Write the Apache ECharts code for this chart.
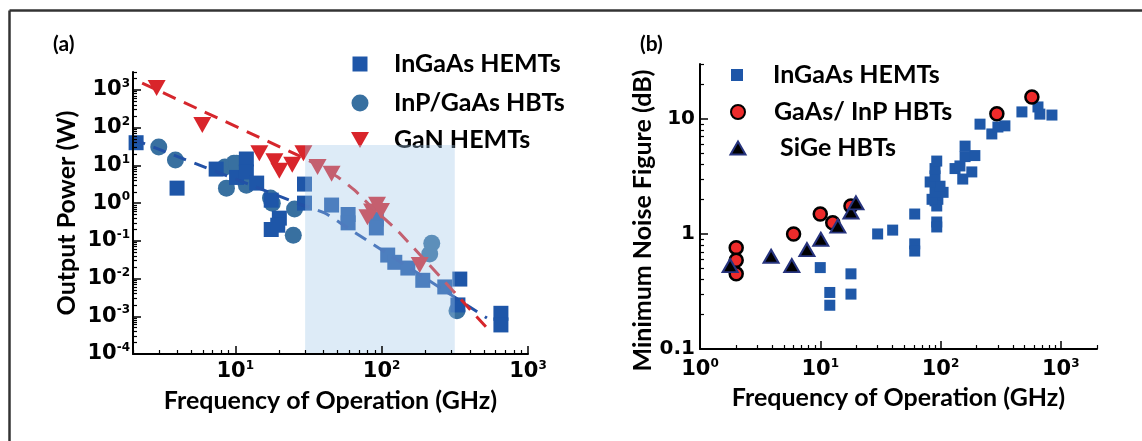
<!DOCTYPE html>
<html>
<head>
<meta charset="utf-8">
<script src="https://cdn.jsdelivr.net/npm/echarts@6/dist/echarts.min.js"></script>
<style>
  html, body { margin: 0; padding: 0; background: #fff; overflow: hidden; }
  #chart { width: 1142px; height: 441px; }
</style>
</head>
<body>
<div id="chart"></div>
<script>
// ---------- Panel (a): output power vs. frequency ----------
// [frequency (GHz), output power (W)]
const ingaasPower = [
  [2.1, 40], [4, 2.5], [7.4, 8], [10.2, 4.8], [11.9, 14.8], [11.9, 6.7], [14, 3.4],
  [17.6, 1.2], [20, 0.4], [17.6, 0.2], [19.5, 0.26], [29.7, 3.2], [29.7, 1.0],
  [45.5, 0.89], [59, 0.5], [59, 0.3], [92, 0.38], [92, 0.22], [110, 0.042],
  [123, 0.027], [151, 0.019], [191, 0.009], [270, 0.006], [342, 0.0097],
  [332, 0.002], [653, 0.0012], [653, 0.00059]
];
const hbtPower = [
  [3, 31], [3.9, 13.9], [8.5, 9.1], [9.8, 11.5], [10.2, 11.5], [8.7, 2.5], [11.9, 3.0],
  [17.4, 1.36], [17.9, 1.0], [25.4, 0.7], [24.9, 0.14], [220, 0.087], [213, 0.045],
  [327, 0.0014]
];
const ganPower = [
  [2.9, 1130], [5.95, 118], [14.6, 21], [18.5, 13], [20, 7.2], [24.5, 10.4],
  [29.2, 21], [36.5, 9.1], [45.5, 6], [93, 0.9], [86, 0.6], [80, 0.42], [99, 0.62],
  [182, 0.023]
];
// dashed trend curves
const hbtTrend = [[2, 50], [27.4, 0.95], [40.7, 0.55], [55.8, 0.25], [524, 0.0009]];
const ganTrend = [
  [2.31, 1530], [27.4, 17.8], [36.5, 10.3], [51.5, 4.6], [65.3, 2.2],
  [85.5, 0.79], [133, 0.161], [524, 0.00049]
];
// highlighted band: [f start, f end, P bottom, P top]
const powerBand = [[30, 316, 1e-4, 35]];

// ---------- Panel (b): minimum noise figure vs. frequency ----------
// [frequency (GHz), NFmin (dB)]
const ingaasNoise = [
  [10, 0.51], [12, 0.31], [12, 0.24], [18, 0.45], [18, 0.3], [30, 1.0], [40, 1.08],
  [61, 1.49], [61, 0.82], [61, 0.71], [93, 1.27], [93, 1.15], [90, 1.94], [95, 2.0],
  [93, 1.75], [85, 2.0], [105, 2.3], [90, 2.3], [99, 2.6], [82, 2.83], [90, 3.2],
  [90, 3.7], [93, 4.3], [132, 3.7], [145, 3.9], [153, 3.0], [182, 3.46], [160, 4.7],
  [160, 5.8], [193, 4.8], [213, 9.0], [267, 7.4], [300, 8.5], [343, 8.7],
  [475, 11.5], [646, 12.7], [670, 11.0], [844, 10.8]
];
const hbtNoise = [
  [2, 0.76], [2, 0.59], [2, 0.45], [6, 1.0], [10, 1.49], [12.7, 1.25], [18, 1.75],
  [294, 11.1], [575, 15.5]
];
const sigeNoise = [
  [1.78, 0.53], [3.9, 0.64], [5.8, 0.53], [7.75, 0.73], [10.1, 0.9], [14, 1.17],
  [18, 1.55], [19.8, 1.86]
];

// ---------- tick values ----------
const powerFreqTicks = [10, 100, 1000];
const powerTicks = [1e-4, 1e-3, 1e-2, 1e-1, 1, 10, 100, 1000];
const noiseFreqTicks = [1, 10, 100, 1000];
const noiseTicks = [0.1, 1, 10];
const noiseTickLabels = ['0.1', '1', '10'];

// 2..9 × 10^e for each decade, up to the axis maximum
function minorTicks(firstExp, lastExp, max) {
  const out = [];
  for (let e = firstExp; e <= lastExp; e++) {
    for (let k = 2; k <= 9; k++) {
      const v = +(k * Math.pow(10, e)).toPrecision(6);
      if (v <= max) out.push(v);
    }
  }
  return out;
}

const BLACK = '#000';
const titleFont = { fontFamily: 'Lato', fontWeight: 'bold', fontSize: 25, color: BLACK };
const supRich = {
  b: { fontFamily: 'DejaVu Sans', fontWeight: 'bold', fontSize: 21, lineHeight: 24, color: BLACK },
  s: { fontFamily: 'DejaVu Sans', fontWeight: 'bold', fontSize: 12, lineHeight: 14, verticalAlign: 'top', color: BLACK }
};
function powLabel(v) {
  return '{b|10}{s|' + Math.round(Math.log10(v)) + '}';
}

function majorAxis(grid, min, max, pos, ticks, labelOpt, nameOpt) {
  return Object.assign({
    gridIndex: grid, type: 'log', logBase: 10, min: min, max: max, position: pos, z: 20,
    axisLine: { show: true, onZero: false, lineStyle: { color: BLACK, width: 2 } },
    axisTick: { show: true, inside: true, length: 8, lineStyle: { color: BLACK, width: 1.5 }, customValues: ticks },
    axisLabel: Object.assign({ customValues: ticks }, labelOpt),
    splitLine: { show: false }, minorTick: { show: false }
  }, nameOpt);
}
function minorAxis(grid, min, max, pos, ticks) {
  return {
    gridIndex: grid, type: 'log', logBase: 10, min: min, max: max, position: pos, z: 20,
    axisLine: { show: false },
    axisTick: { show: true, inside: true, length: 4, lineStyle: { color: BLACK, width: 1.2 }, customValues: ticks },
    axisLabel: { show: false }, splitLine: { show: false }
  };
}

function legendRow(name, icon, left, top, w, h, pad) {
  return {
    left: left, top: top, orient: 'vertical', padding: 0, selectedMode: false,
    itemWidth: w, itemHeight: h,
    textStyle: { fontFamily: 'Lato', fontWeight: 'bold', fontSize: 25, lineHeight: 26, color: BLACK, padding: [0, 0, 0, pad] },
    data: [{ name: name, icon: icon }]
  };
}

const chart = echarts.init(document.getElementById('chart'));

chart.setOption({
  animation: false,
  backgroundColor: '#fff',
  grid: [
    { left: 133, top: 72, width: 395, height: 282 },
    { left: 700, top: 64, width: 397, height: 285 }
  ],
  xAxis: [
    majorAxis(0, 2, 1000, 'bottom', powerFreqTicks,
      { margin: 6, formatter: powLabel, rich: supRich },
      { name: 'Frequency of Operation (GHz)', nameLocation: 'middle', nameGap: 34, nameTextStyle: titleFont }),
    minorAxis(0, 2, 1000, 'bottom', minorTicks(0, 2, 1000)),
    majorAxis(1, 1, 2000, 'bottom', noiseFreqTicks,
      { margin: 9, formatter: powLabel, rich: supRich },
      { name: 'Frequency of Operation (GHz)', nameLocation: 'middle', nameGap: 34, nameTextStyle: titleFont }),
    minorAxis(1, 1, 2000, 'bottom', minorTicks(0, 3, 2000))
  ],
  yAxis: [
    majorAxis(0, 1e-4, 3000, 'left', powerTicks,
      { margin: 3, formatter: powLabel, rich: supRich },
      { name: 'Output Power (W)', nameLocation: 'middle', nameGap: 54, nameRotate: 90, nameTextStyle: titleFont }),
    minorAxis(0, 1e-4, 3000, 'left', minorTicks(-4, 3, 3000)),
    majorAxis(1, 0.1, 30, 'left', noiseTicks,
      {
        margin: 5, fontFamily: 'DejaVu Sans', fontWeight: 'bold', fontSize: 20, color: BLACK,
        formatter: function (v) { return noiseTickLabels[noiseTicks.findIndex(t => Math.abs(t - v) < 1e-9 * Math.max(1, t))] || ''; }
      },
      {
        name: 'Minimum Noise Figure (dB)', nameLocation: 'middle', nameGap: 40, nameRotate: 90,
        nameTextStyle: Object.assign({ padding: [0, 28, 0, 0] }, titleFont)
      }),
    minorAxis(1, 0.1, 30, 'left', minorTicks(-1, 1, 30))
  ],
  legend: [
    legendRow('InGaAs HEMTs', 'rect', 352.5, 51, 15, 15, 21.5),
    legendRow('InP/GaAs HBTs', 'circle', 351.5, 90, 17, 17, 20.5),
    legendRow('GaN HEMTs', 'path://M0,0L18,0L9,16Z', 351, 127, 18, 16, 20),
    legendRow('InGaAs HEMTs', 'rect', 731, 62, 12, 12, 25),
    legendRow('GaAs/ InP HBTs', 'circle', 730, 99, 14, 14, 24),
    legendRow(' SiGe HBTs', 'triangle', 729.5, 135, 15, 13, 23.5)
  ],
  graphic: [
    { type: 'line', z: 100, shape: { x1: 9.5, y1: 10.5, x2: 1142, y2: 10.5 }, style: { stroke: '#333', lineWidth: 2.5 } },
    { type: 'line', z: 100, shape: { x1: 9.5, y1: 10.5, x2: 9.5, y2: 441 }, style: { stroke: '#333', lineWidth: 2.5 } },
    { type: 'text', left: 53, top: 34, style: { text: '(a)', font: 'bold 21px Lato', fill: BLACK } },
    { type: 'text', left: 640, top: 34, style: { text: '(b)', font: 'bold 21px Lato', fill: BLACK } }
  ],
  series: [
    // panel (a)
    {
      name: 'InP/GaAs HBTs', type: 'scatter', xAxisIndex: 0, yAxisIndex: 0, z: 2,
      symbol: 'circle', symbolSize: 17, data: hbtPower,
      itemStyle: { color: '#3870a0', opacity: 1 }
    },
    {
      name: 'InGaAs HEMTs', type: 'scatter', xAxisIndex: 0, yAxisIndex: 0, z: 3,
      symbol: 'rect', symbolSize: 15, data: ingaasPower,
      itemStyle: { color: '#1e56a8', opacity: 1 }
    },
    {
      name: 'GaN HEMTs', type: 'scatter', xAxisIndex: 0, yAxisIndex: 0, z: 4,
      symbol: 'triangle', symbolRotate: 180, symbolSize: [18, 16], data: ganPower,
      itemStyle: { color: '#d9252b', opacity: 1 }
    },
    {
      name: 'HBT power trend', type: 'line', xAxisIndex: 0, yAxisIndex: 0, z: 5,
      data: hbtTrend, symbol: 'none', smooth: 0.2, silent: true,
      lineStyle: { color: '#2251a6', width: 3, type: [13, 9] }
    },
    {
      name: 'GaN power trend', type: 'line', xAxisIndex: 0, yAxisIndex: 0, z: 5,
      data: ganTrend, symbol: 'none', smooth: 0.2, silent: true,
      lineStyle: { color: '#d6262c', width: 3, type: [14, 9] }
    },
    {
      name: 'band', type: 'custom', xAxisIndex: 0, yAxisIndex: 0, z: 10, silent: true,
      data: powerBand, encode: { x: [0, 1], y: [2, 3] },
      renderItem: function (params, api) {
        const p0 = api.coord([api.value(0), api.value(3)]);
        const p1 = api.coord([api.value(1), api.value(2)]);
        return {
          type: 'rect',
          shape: { x: p0[0], y: p0[1], width: p1[0] - p0[0], height: p1[1] - p0[1] },
          style: { fill: 'rgba(160,200,232,0.36)' }
        };
      }
    },
    // panel (b)
    {
      name: 'InGaAs HEMTs', type: 'scatter', xAxisIndex: 2, yAxisIndex: 2, z: 2,
      symbol: 'rect', symbolSize: 11, data: ingaasNoise,
      itemStyle: { color: '#1f58a8', opacity: 1 }
    },
    {
      name: 'GaAs/ InP HBTs', type: 'scatter', xAxisIndex: 2, yAxisIndex: 2, z: 3,
      symbol: 'circle', symbolSize: 13, data: hbtNoise,
      itemStyle: { color: '#ee2b2b', borderColor: '#000', borderWidth: 2.5, opacity: 1 }
    },
    {
      name: ' SiGe HBTs', type: 'scatter', xAxisIndex: 2, yAxisIndex: 2, z: 4,
      symbol: 'triangle', symbolSize: [15, 13], data: sigeNoise,
      itemStyle: { color: '#000', borderColor: '#27347e', borderWidth: 2, opacity: 1 }
    }
  ]
});
</script>
</body>
</html>
